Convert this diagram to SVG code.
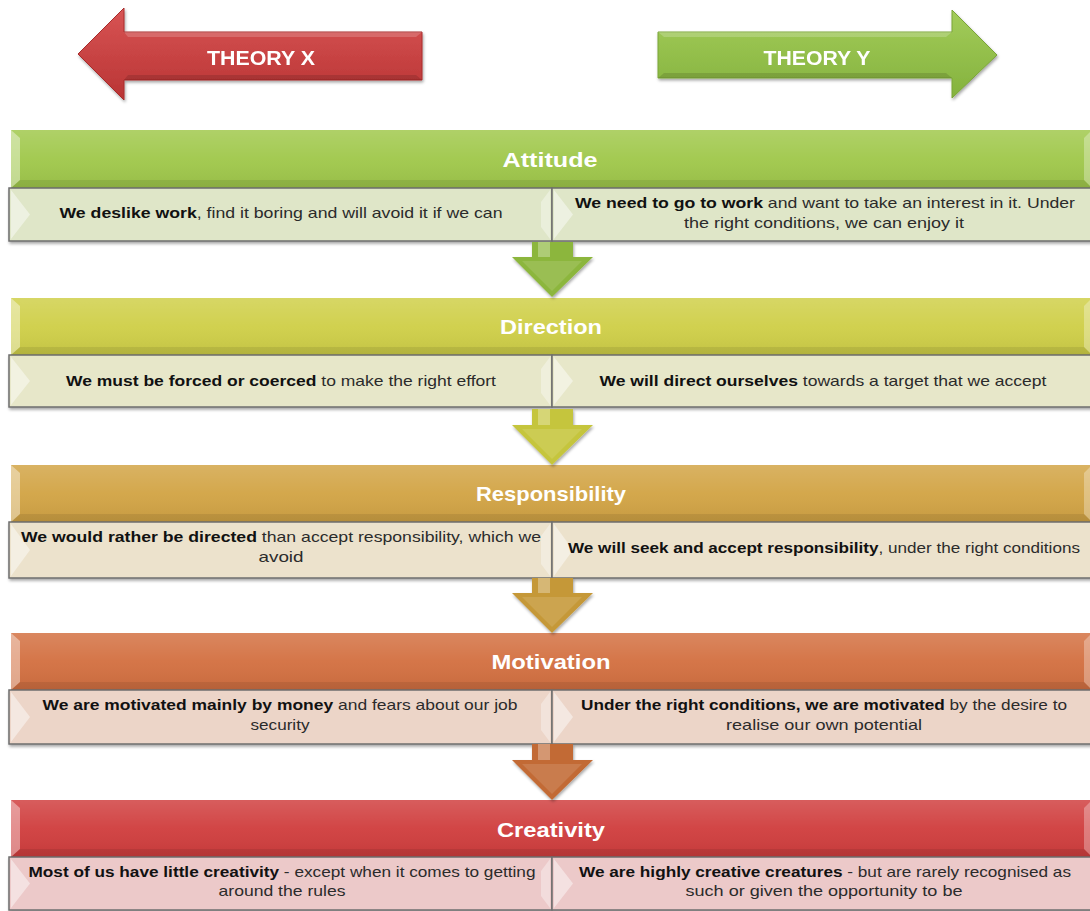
<svg xmlns="http://www.w3.org/2000/svg" width="1090" height="911" viewBox="0 0 1090 911">
  <style>
    .ht { font-family: "Liberation Sans", Arial, sans-serif; font-weight: bold; font-size: 21px; fill: #ffffff; text-anchor: middle; }
    .tt { font-family: "Liberation Sans", Arial, sans-serif; font-weight: bold; font-size: 21px; fill: #ffffff; text-anchor: middle; }
    .bt { font-family: "Liberation Sans", Arial, sans-serif; font-size: 15px; fill: #2b2b2b; text-anchor: middle; }
    .b { font-weight: bold; fill: #111111; }
    .box { stroke: #6e6e6e; stroke-width: 1.5; }
    .hdr { stroke: none; }
    .hl { fill: #ffffff; }
    .sh { fill: #000000; }
  </style>
  <defs>
    <linearGradient id="gloss" x1="0" y1="0" x2="0" y2="1">
      <stop offset="0" stop-color="#ffffff" stop-opacity="0.16"/>
      <stop offset="0.5" stop-color="#ffffff" stop-opacity="0.04"/>
      <stop offset="1" stop-color="#000000" stop-opacity="0.06"/>
    </linearGradient>
    <linearGradient id="redFill" x1="0" y1="0" x2="0" y2="1">
      <stop offset="0" stop-color="#d85454"/>
      <stop offset="1" stop-color="#b93434"/>
    </linearGradient>
    <linearGradient id="greenFill" x1="0" y1="0" x2="0" y2="1">
      <stop offset="0" stop-color="#a3cc5a"/>
      <stop offset="1" stop-color="#84b23d"/>
    </linearGradient>
    <filter id="drop" x="-5%" y="-20%" width="110%" height="150%">
      <feDropShadow dx="1" dy="2" stdDeviation="1.6" flood-color="#000" flood-opacity="0.35"/>
    </filter>
    <filter id="halo" x="-10%" y="-30%" width="120%" height="160%">
      <feDropShadow dx="0" dy="0" stdDeviation="0.8" flood-color="#7a2020" flood-opacity="0.6"/>
    </filter>
  </defs>

  <rect width="1090" height="911" fill="#ffffff"/>

  <!-- Theory X: left-pointing block arrow -->
  <g id="theory-x" filter="url(#drop)">
    <polygon points="78,54 124,8 124,32 422,32 422,80 124,80 124,100" fill="url(#redFill)" stroke="#a82c2c" stroke-width="1"/>
    <polygon class="hl" points="124,32 422,32 416,37 128,37" opacity="0.18"/>
    <polygon class="sh" points="124,80 422,80 416,75 128,75" opacity="0.12"/>
    <text class="tt" x="261" y="65" textLength="108" lengthAdjust="spacingAndGlyphs">THEORY X</text>
  </g>

  <!-- Theory Y: right-pointing block arrow -->
  <g id="theory-y" filter="url(#drop)">
    <polygon points="658,32 952,32 952,10 997,55 952,98 952,78 658,78" fill="url(#greenFill)" stroke="#7aa537" stroke-width="1"/>
    <polygon class="hl" points="658,32 952,32 946,37 664,37" opacity="0.2"/>
    <polygon class="sh" points="658,78 952,78 946,73 664,73" opacity="0.12"/>
    <text class="tt" x="817" y="65" textLength="107" lengthAdjust="spacingAndGlyphs">THEORY Y</text>
  </g>

  <!-- Attitude -->
  <g id="attitude" transform="translate(0,130)">
    <rect class="hdr" x="11" y="0" width="1081" height="58" fill="#a0c84b"/>
    <rect x="11" y="0" width="1081" height="58" fill="url(#gloss)"/>
    <polygon class="hl" points="11,0 20,8 20,50 11,58" opacity="0.4"/>
    <polygon class="hl" points="1092,0 1084,8 1084,50 1092,58" opacity="0.3"/>
    <polygon class="sh" points="11,58 20,50 1084,50 1092,58" opacity="0.08"/>
    <text class="ht" x="550" y="37" textLength="95" lengthAdjust="spacingAndGlyphs">Attitude</text>
    <g filter="url(#drop)">
      <rect class="box" x="9" y="58" width="543" height="53" fill="#dfe6c8"/>
      <rect class="box" x="552" y="58" width="540" height="53" fill="#dfe6c8"/>
    </g>
    <polygon class="hl" points="11,60 30,84.5 11,109" opacity="0.45"/>
    <polygon class="hl" points="550,60 541,72 541,97 550,109" opacity="0.35"/>
    <polygon class="hl" points="554,60 573,84.5 554,109" opacity="0.45"/>
    <text class="bt" x="281" y="88" textLength="443" lengthAdjust="spacingAndGlyphs"><tspan class="b">We deslike work</tspan>, find it boring and will avoid it if we can</text>
    <text class="bt" x="825" y="78" textLength="500" lengthAdjust="spacingAndGlyphs"><tspan class="b">We need to go to work</tspan> and want to take an interest in it. Under</text>
    <text class="bt" x="824" y="98" textLength="280" lengthAdjust="spacingAndGlyphs">the right conditions, we can enjoy it</text>
  </g>

  <!-- Direction -->
  <g id="direction" transform="translate(0,298)">
    <rect class="hdr" x="11" y="0" width="1081" height="57" fill="#cfcf48"/>
    <rect x="11" y="0" width="1081" height="57" fill="url(#gloss)"/>
    <polygon class="hl" points="11,0 20,8 20,49 11,57" opacity="0.4"/>
    <polygon class="hl" points="1092,0 1084,8 1084,49 1092,57" opacity="0.3"/>
    <polygon class="sh" points="11,57 20,49 1084,49 1092,57" opacity="0.08"/>
    <text class="ht" x="551" y="36" textLength="102" lengthAdjust="spacingAndGlyphs">Direction</text>
    <g filter="url(#drop)">
      <rect class="box" x="9" y="57" width="543" height="52" fill="#e7e7c9"/>
      <rect class="box" x="552" y="57" width="540" height="52" fill="#e7e7c9"/>
    </g>
    <polygon class="hl" points="11,59 30,83 11,107" opacity="0.45"/>
    <polygon class="hl" points="550,59 541,71 541,95 550,107" opacity="0.35"/>
    <polygon class="hl" points="554,59 573,83 554,107" opacity="0.45"/>
    <text class="bt" x="281" y="88" textLength="430" lengthAdjust="spacingAndGlyphs"><tspan class="b">We must be forced or coerced</tspan> to make the right effort</text>
    <text class="bt" x="823" y="88" textLength="447" lengthAdjust="spacingAndGlyphs"><tspan class="b">We will direct ourselves</tspan> towards a target that we accept</text>
  </g>

  <!-- Responsibility -->
  <g id="responsibility" transform="translate(0,465)">
    <rect class="hdr" x="11" y="0" width="1081" height="57" fill="#d2a445"/>
    <rect x="11" y="0" width="1081" height="57" fill="url(#gloss)"/>
    <polygon class="hl" points="11,0 20,8 20,49 11,57" opacity="0.4"/>
    <polygon class="hl" points="1092,0 1084,8 1084,49 1092,57" opacity="0.3"/>
    <polygon class="sh" points="11,57 20,49 1084,49 1092,57" opacity="0.08"/>
    <text class="ht" x="551" y="36" textLength="150" lengthAdjust="spacingAndGlyphs">Responsibility</text>
    <g filter="url(#drop)">
      <rect class="box" x="9" y="57" width="543" height="56" fill="#ece2cc"/>
      <rect class="box" x="552" y="57" width="540" height="56" fill="#ece2cc"/>
    </g>
    <polygon class="hl" points="11,59 30,85 11,111" opacity="0.45"/>
    <polygon class="hl" points="550,59 541,71 541,99 550,111" opacity="0.35"/>
    <polygon class="hl" points="554,59 573,85 554,111" opacity="0.45"/>
    <text class="bt" x="281" y="77" textLength="520" lengthAdjust="spacingAndGlyphs"><tspan class="b">We would rather be directed</tspan> than accept responsibility, which we</text>
    <text class="bt" x="281" y="97" textLength="45" lengthAdjust="spacingAndGlyphs">avoid</text>
    <text class="bt" x="824" y="88" textLength="512" lengthAdjust="spacingAndGlyphs"><tspan class="b">We will seek and accept responsibility</tspan>, under the right conditions</text>
  </g>

  <!-- Motivation -->
  <g id="motivation" transform="translate(0,633)">
    <rect class="hdr" x="11" y="0" width="1081" height="57" fill="#d37041"/>
    <rect x="11" y="0" width="1081" height="57" fill="url(#gloss)"/>
    <polygon class="hl" points="11,0 20,8 20,49 11,57" opacity="0.4"/>
    <polygon class="hl" points="1092,0 1084,8 1084,49 1092,57" opacity="0.3"/>
    <polygon class="sh" points="11,57 20,49 1084,49 1092,57" opacity="0.08"/>
    <text class="ht" x="551" y="36" textLength="119" lengthAdjust="spacingAndGlyphs">Motivation</text>
    <g filter="url(#drop)">
      <rect class="box" x="9" y="57" width="543" height="54" fill="#ecd5c8"/>
      <rect class="box" x="552" y="57" width="540" height="54" fill="#ecd5c8"/>
    </g>
    <polygon class="hl" points="11,59 30,84 11,109" opacity="0.45"/>
    <polygon class="hl" points="550,59 541,71 541,97 550,109" opacity="0.35"/>
    <polygon class="hl" points="554,59 573,84 554,109" opacity="0.45"/>
    <text class="bt" x="280" y="77" textLength="475" lengthAdjust="spacingAndGlyphs"><tspan class="b">We are motivated mainly by money</tspan> and fears about our job</text>
    <text class="bt" x="280" y="97" textLength="59" lengthAdjust="spacingAndGlyphs">security</text>
    <text class="bt" x="824" y="77" textLength="486" lengthAdjust="spacingAndGlyphs"><tspan class="b">Under the right conditions, we are motivated</tspan> by the desire to</text>
    <text class="bt" x="824" y="97" textLength="196" lengthAdjust="spacingAndGlyphs">realise our own potential</text>
  </g>

  <!-- Creativity -->
  <g id="creativity" transform="translate(0,800)">
    <rect class="hdr" x="11" y="0" width="1081" height="57" fill="#d03e3e"/>
    <rect x="11" y="0" width="1081" height="57" fill="url(#gloss)"/>
    <polygon class="hl" points="11,0 20,8 20,49 11,57" opacity="0.4"/>
    <polygon class="hl" points="1092,0 1084,8 1084,49 1092,57" opacity="0.3"/>
    <polygon class="sh" points="11,57 20,49 1084,49 1092,57" opacity="0.08"/>
    <text class="ht" x="551" y="37" textLength="108" lengthAdjust="spacingAndGlyphs">Creativity</text>
    <g filter="url(#drop)">
      <rect class="box" x="9" y="57" width="543" height="53" fill="#ecc9c9"/>
      <rect class="box" x="552" y="57" width="540" height="53" fill="#ecc9c9"/>
    </g>
    <polygon class="hl" points="11,59 30,83.5 11,108" opacity="0.45"/>
    <polygon class="hl" points="550,59 541,71 541,96 550,108" opacity="0.35"/>
    <polygon class="hl" points="554,59 573,83.5 554,108" opacity="0.45"/>
    <text class="bt" x="282" y="77" textLength="507" lengthAdjust="spacingAndGlyphs"><tspan class="b">Most of us have little creativity</tspan> - except when it comes to getting</text>
    <text class="bt" x="282" y="96" textLength="127" lengthAdjust="spacingAndGlyphs">around the rules</text>
    <text class="bt" x="825" y="77" textLength="492" lengthAdjust="spacingAndGlyphs"><tspan class="b">We are highly creative creatures</tspan> - but are rarely recognised as</text>
    <text class="bt" x="824" y="96" textLength="277" lengthAdjust="spacingAndGlyphs">such or given the opportunity to be</text>
  </g>

  <!-- Downward connectors between sections -->
  <g id="connectors" filter="url(#drop)">
    <g transform="translate(0,242)">
      <polygon points="532,0 573,0 573,15 593,15 552,55 512,15 532,15" fill="#8cb63c"/>
      <rect class="hl" x="538" y="0" width="12" height="15" opacity="0.3"/>
      <polygon class="hl" points="522,19 582,19 552,49" opacity="0.12"/>
    </g>
    <g transform="translate(0,409)">
      <polygon points="532,0 573,0 573,16 593,16 552,56 512,16 532,16" fill="#c5c53c"/>
      <rect class="hl" x="538" y="0" width="12" height="16" opacity="0.3"/>
      <polygon class="hl" points="522,20 582,20 552,50" opacity="0.12"/>
    </g>
    <g transform="translate(0,578)">
      <polygon points="532,0 573,0 573,15 593,15 552,55 512,15 532,15" fill="#c59838"/>
      <rect class="hl" x="538" y="0" width="12" height="15" opacity="0.3"/>
      <polygon class="hl" points="522,19 582,19 552,49" opacity="0.12"/>
    </g>
    <g transform="translate(0,744)">
      <polygon points="532,0 573,0 573,16 593,16 552,56 512,16 532,16" fill="#c26a35"/>
      <rect class="hl" x="538" y="0" width="12" height="16" opacity="0.3"/>
      <polygon class="hl" points="522,20 582,20 552,50" opacity="0.12"/>
    </g>
  </g>
</svg>
